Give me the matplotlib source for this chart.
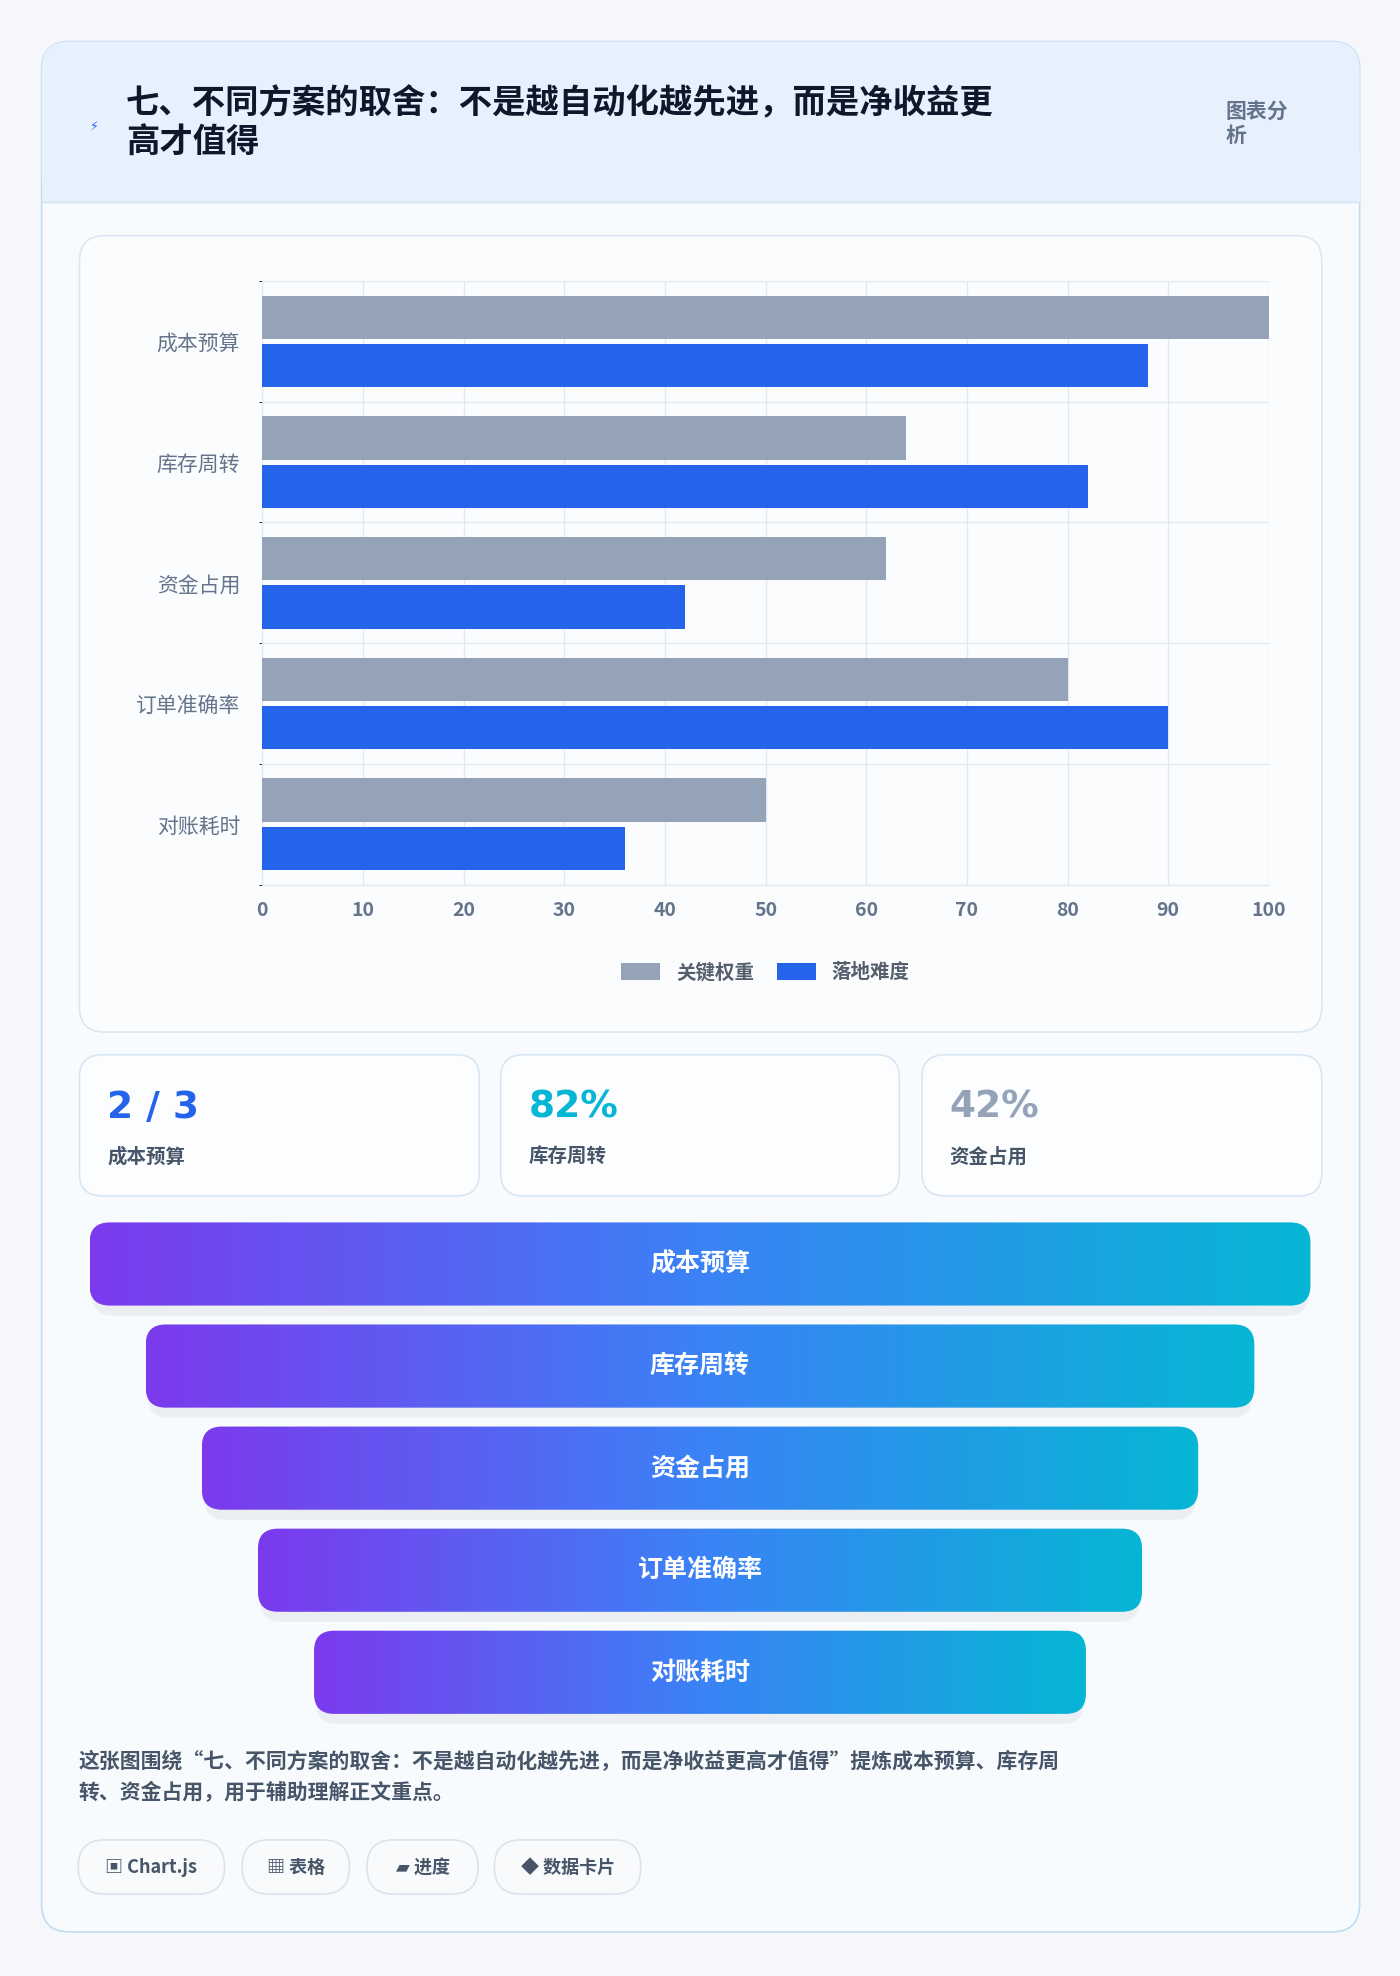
import matplotlib
matplotlib.use("Agg")
import matplotlib.pyplot as plt
import numpy as np
from matplotlib.patches import FancyBboxPatch, Rectangle
from matplotlib.colors import LinearSegmentedColormap

plt.rcParams['font.family'] = ['Noto Sans CJK SC', 'DejaVu Sans']

categories = ['成本预算', '库存周转', '资金占用', '订单准确率', '对账耗时']
weight = [100, 64, 62, 80, 50]
difficulty = [88, 82, 42, 90, 36]
series_names = ['关键权重', '落地难度']
x_ticks = [0, 10, 20, 30, 40, 50, 60, 70, 80, 90, 100]
kpi_values = ['2 / 3', '82%', '42%']
kpi_labels = ['成本预算', '库存周转', '资金占用']
kpi_colors = ['#2563eb', '#06b6d4', '#94a3b8']
funnel_stages = ['成本预算', '库存周转', '资金占用', '订单准确率', '对账耗时']
title = '七、不同方案的取舍：不是越自动化越先进，而是净收益更\n高才值得'
caption = '这张图围绕“七、不同方案的取舍：不是越自动化越先进，而是净收益更高才值得”提炼成本预算、库存周\n转、资金占用，用于辅助理解正文重点。'
tags = ['▣ Chart.js', '▦ 表格', '▰ 进度', '◆ 数据卡片']

W, H = 1110, 1568
fig = plt.figure(figsize=(14, 19.76), dpi=100)
fig.patch.set_facecolor('#f5f7fb')
bg = fig.add_axes([0, 0, 1, 1])
bg.set_xlim(0, W); bg.set_ylim(H, 0); bg.axis('off')

def rbox(x0, y0, x1, y1, r, fc, ec='none', lw=1, z=1, ax=bg):
    p = FancyBboxPatch((x0, y0), x1 - x0, y1 - y0, boxstyle=f"round,pad=0,rounding_size={r}",
                       fc=fc, ec=ec, lw=lw, zorder=z)
    ax.add_patch(p)
    return p

# main card
rbox(33, 33, 1078, 1533, 22, '#f8fbfe', '#bfdcf3', 1.2, z=1)
hdr = rbox(33, 33, 1078, 160, 22, '#e6f1fd', 'none', z=2)
bg.add_patch(Rectangle((33, 120), 1045, 40, fc='#e6f1fd', ec='none', zorder=2))
bg.plot([33, 1078], [160, 160], color='#cfe3f5', lw=1, zorder=3)
bg.text(75, 100, '⚡', color='#2563eb', fontsize=9, ha='center', va='center', zorder=4, family=['DejaVu Sans'])
bg.text(100, 98, title, fontsize=24, fontweight='bold', color='#0f172a', va='center', ha='left',
        linespacing=1.25, zorder=4)
bg.text(972, 98, '图表分\n析', fontsize=15, fontweight='bold', color='#64748b', va='center', ha='left', zorder=4)

# chart card
rbox(63, 187, 1048, 819, 20, '#fbfcfe', '#dbe7f3', 1.2, z=2)
ax = fig.add_axes([208 / W, 1 - 702 / H, (1006 - 208) / W, (702 - 223) / H])
ax.set_facecolor('none')
n = len(categories)
y = np.arange(n)
h = 0.36
ax.barh(y - h / 2 - 0.02, weight, height=h, color='#94a3b8', label=series_names[0], zorder=3)
ax.barh(y + h / 2 + 0.02, difficulty, height=h, color='#2563eb', label=series_names[1], zorder=3)
ax.set_ylim(n - 0.5, -0.5)
ax.set_xlim(0, 100)
ax.set_xticks(x_ticks)
ax.set_yticks(y)
ax.set_yticklabels(categories, fontsize=15, color='#64748b')
ax.tick_params(axis='x', labelsize=14, colors='#64748b', length=0, pad=12)
for lbl in ax.get_xticklabels():
    lbl.set_fontweight('bold')
ax.tick_params(axis='y', length=0, pad=16)
ax.set_yticks(np.arange(n + 1) - 0.5, minor=True)
ax.grid(True, axis='x', color='#e2e8f0', lw=1, zorder=0)
ax.grid(True, axis='y', which='minor', color='#e2e8f0', lw=1, zorder=0)
for s in ax.spines.values():
    s.set_color('#e2e8f0')
ax.spines['right'].set_visible(False)
ax.spines['top'].set_visible(False)
leg = ax.legend(loc='upper center', bbox_to_anchor=(0.5, -0.1), ncol=2, frameon=False,
                prop={'size': 14, 'weight': 'bold'}, handlelength=2, handleheight=1, columnspacing=1.2)
for t in leg.get_texts():
    t.set_color('#555f6d')

# KPI cards
kx = [(63, 380), (397, 713), (731, 1048)]
for (x0, x1), v, l, c in zip(kx, kpi_values, kpi_labels, kpi_colors):
    rbox(x0, 837, x1, 949, 18, '#fbfdff', '#d7e6f4', 1.2, z=2)
    bg.text(x0 + 22, 879, v, fontsize=27, fontweight='bold', color=c, va='center', zorder=4, family=['DejaVu Sans'])
    bg.text(x0 + 22, 918, l, fontsize=14, fontweight='bold', color='#475569', va='center', zorder=4)

# funnel
cmap = LinearSegmentedColormap.from_list('g', ['#7c3aed', '#3b82f6', '#06b6d4'])
grad = np.linspace(0, 1, 256)[None, :]
for i, st in enumerate(funnel_stages):
    x0 = 71 + i * 44.5
    x1 = 1039 - i * 44.5
    y0 = 970 + i * 81
    y1 = y0 + 66
    sh = rbox(x0 + 2, y0 + 8, x1 - 2, y1 + 8, 16, '#1e293b', z=2)
    sh.set_alpha(0.06)
    p = rbox(x0, y0, x1, y1, 16, 'none', z=3)
    im = bg.imshow(grad, cmap=cmap, extent=(x0, x1, y1, y0), aspect='auto', zorder=3)
    im.set_clip_path(p)
    bg.text((x0 + x1) / 2, (y0 + y1) / 2, st, fontsize=18, fontweight='bold', color='white',
            ha='center', va='center', zorder=4)
bg.set_xlim(0, W); bg.set_ylim(H, 0)

bg.text(62, 1410, caption, fontsize=15, fontweight='bold', color='#475569', va='center',
        linespacing=1.55, zorder=4)

tx = [(62, 178), (192, 277), (291, 379), (392, 508)]
for (x0, x1), t in zip(tx, tags):
    rbox(x0, 1460, x1, 1503, 21, '#f8fafc', '#dbe3ec', 1.2, z=2)
    bg.text((x0 + x1) / 2, 1482, t, fontsize=13, fontweight='bold', color='#475569',
            ha='center', va='center', zorder=4, family=['Noto Sans CJK SC', 'DejaVu Sans'])

fig.savefig('out.png', dpi=100, facecolor=fig.get_facecolor())
